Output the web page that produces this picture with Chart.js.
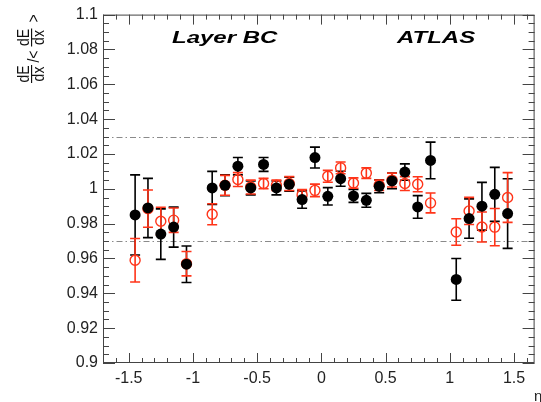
<!DOCTYPE html>
<html>
<head>
<meta charset="utf-8">
<script src="https://cdn.jsdelivr.net/npm/chart.js@4"></script>
<style>
  html, body { margin: 0; padding: 0; background: #fff; }
  canvas { display: block; }
</style>
</head>
<body>
<canvas id="grafica" width="541" height="402"></canvas>
<script>
// pseudorapidity bin centres
const eta = [-1.45, -1.35, -1.25, -1.15, -1.05,
  -0.85, -0.75, -0.65, -0.55, -0.45, -0.35, -0.25, -0.15, -0.05,
  0.05, 0.15, 0.25, 0.35, 0.45, 0.55, 0.65, 0.75, 0.85,
  1.05, 1.15, 1.25, 1.35, 1.45];

// filled black points
const filledVal = [0.985, 0.989, 0.974, 0.978, 0.9567,
  1.0005, 1.002, 1.013, 1.0005, 1.014, 1.0005, 1.0026, 0.9938, 1.0179,
  0.9957, 1.0058, 0.9959, 0.9934, 1.0014, 1.0045, 1.0096, 0.9896, 1.0163,
  0.948, 0.9829, 0.990, 0.9968, 0.9858];
const filledErr = [0.023, 0.017, 0.0145, 0.0115, 0.0105,
  0.0095, 0.006, 0.005, 0.004, 0.004, 0.004, 0.004, 0.005, 0.006,
  0.005, 0.0043, 0.0037, 0.004, 0.0037, 0.0045, 0.0047, 0.0065, 0.0105,
  0.012, 0.0113, 0.0137, 0.0155, 0.020];

// open red points
const openVal = [0.959, 0.9886, 0.9814, 0.982, 0.957,
  0.9854, 1.002, 1.0053, 1.001, 1.003, 1.002, 1.003, 0.9965, 0.9991,
  1.0072, 1.012, 1.0033, 1.009, 1.002, 1.005, 1.003, 1.0026, 0.9919,
  0.9752, 0.9873, 0.9781, 0.978, 0.995];
const openErr = [0.0125, 0.0107, 0.008, 0.007, 0.007,
  0.006, 0.0057, 0.004, 0.004, 0.003, 0.003, 0.004, 0.003, 0.0036,
  0.0034, 0.0034, 0.003, 0.003, 0.003, 0.004, 0.004, 0.0043, 0.0057,
  0.0076, 0.0078, 0.0086, 0.0107, 0.0143];

const xTickValues = [-1.5, -1, -0.5, 0, 0.5, 1, 1.5];
const xTickLabels = ['-1.5', '-1', '-0.5', '0', '0.5', '1', '1.5'];
const yTickValues = [0.9, 0.92, 0.94, 0.96, 0.98, 1, 1.02, 1.04, 1.06, 1.08, 1.1];
const yTickLabels = ['0.9', '0.92', '0.94', '0.96', '0.98', '1', '1.02', '1.04', '1.06', '1.08', '1.1'];
const refLines = [0.97, 1.03];

const ROJO = '#ff3419';
const FUENTE = '"Liberation Sans", Arial, Helvetica, sans-serif';

const puntos = (vals) => eta.map((x, i) => ({ x: x, y: vals[i] }));

// error bars, frame, inward ticks, reference lines
const marcoPlugin = {
  id: 'marco',
  beforeDatasetsDraw(chart) {
    const { ctx, chartArea: a, scales: { x, y } } = chart;
    ctx.save();
    // dash-dot reference lines
    ctx.strokeStyle = '#8a8a8a';
    ctx.lineWidth = 1;
    ctx.setLineDash([6, 3, 1.5, 3]);
    refLines.forEach(v => {
      const py = Math.round(y.getPixelForValue(v)) + 0.5;
      ctx.beginPath(); ctx.moveTo(a.left, py); ctx.lineTo(a.right, py); ctx.stroke();
    });
    ctx.setLineDash([]);

    const barras = (vals, errs, color) => {
      ctx.strokeStyle = color;
      ctx.lineWidth = 1.6;
      eta.forEach((e, i) => {
        const px = x.getPixelForValue(e);
        const top = y.getPixelForValue(vals[i] + errs[i]);
        const bot = y.getPixelForValue(vals[i] - errs[i]);
        ctx.beginPath();
        ctx.moveTo(px, top); ctx.lineTo(px, bot);
        ctx.moveTo(px - 5, top); ctx.lineTo(px + 5, top);
        ctx.moveTo(px - 5, bot); ctx.lineTo(px + 5, bot);
        ctx.stroke();
      });
    };
    barras(filledVal, filledErr, '#000');
    barras(openVal, openErr, ROJO);
    ctx.restore();
  },
  afterDraw(chart) {
    const { ctx, chartArea: a, scales: { x, y } } = chart;
    ctx.save();
    ctx.strokeStyle = '#444';
    ctx.lineWidth = 1;
    ctx.strokeRect(a.left + 0.5, a.top + 0.5, a.right - a.left - 1, a.bottom - a.top - 1);

    // x ticks, minor every 0.1
    for (let k = -17; k <= 16; k++) {
      const v = k / 10;
      const px = Math.round(x.getPixelForValue(v)) + 0.5;
      const len = (k % 5 === 0) ? 10 : 5;
      ctx.beginPath();
      ctx.moveTo(px, a.bottom); ctx.lineTo(px, a.bottom - len);
      ctx.moveTo(px, a.top); ctx.lineTo(px, a.top + len);
      ctx.stroke();
    }
    // y ticks, minor every 0.005
    for (let k = 0; k <= 40; k++) {
      const v = 0.9 + k * 0.005;
      const py = Math.round(y.getPixelForValue(v)) + 0.5;
      const len = (k % 4 === 0) ? 12 : 6;
      ctx.beginPath();
      ctx.moveTo(a.left, py); ctx.lineTo(a.left + len, py);
      ctx.moveTo(a.right, py); ctx.lineTo(a.right - len, py);
      ctx.stroke();
    }

    // labels inside the frame
    ctx.fillStyle = '#000';
    ctx.font = 'bold italic 16px ' + FUENTE;
    ctx.textBaseline = 'alphabetic';
    ctx.save(); ctx.translate(172, 43); ctx.scale(1.5, 1); ctx.fillText('Layer BC', 0, 0); ctx.restore();
    ctx.save(); ctx.translate(397, 43); ctx.scale(1.5, 1); ctx.fillText('ATLAS', 0, 0); ctx.restore();

    // x axis title
    ctx.fillStyle = '#222';
    ctx.font = '15px ' + FUENTE;
    ctx.textAlign = 'left';
    ctx.fillText('η', 534, 401);

    // y axis title: dE/dx / <dE/dx>
    ctx.save();
    ctx.translate(31, 83);
    ctx.rotate(-Math.PI / 2);
    ctx.scale(1, 1.15);
    ctx.font = '14px ' + FUENTE;
    ctx.fillStyle = '#111';
    ctx.textAlign = 'center';
    ctx.strokeStyle = '#111';
    ctx.lineWidth = 1;
    const fraccion = (cx) => {
      ctx.fillText('dE', cx, -2);
      ctx.fillText('dx', cx, 11);
      ctx.beginPath(); ctx.moveTo(cx - 9, 0.5); ctx.lineTo(cx + 9, 0.5); ctx.stroke();
    };
    fraccion(9);
    ctx.fillText('/<', 26.5, 7);
    fraccion(45.5);
    ctx.fillText('>', 64.5, 7);
    ctx.restore();

    ctx.restore();
  }
};

const ctx = document.getElementById('grafica').getContext('2d');
const grafica = new Chart(ctx, {
  type: 'scatter',
  data: {
    datasets: [
      {
        label: 'llenos',
        data: puntos(filledVal),
        pointStyle: 'circle',
        pointRadius: 5.5,
        pointHoverRadius: 5.5,
        pointBackgroundColor: '#000',
        pointBorderColor: '#000',
        pointBorderWidth: 0,
        order: 1
      },
      {
        label: 'abiertos',
        data: puntos(openVal),
        pointStyle: 'circle',
        pointRadius: 5,
        pointHoverRadius: 5,
        pointBackgroundColor: 'rgba(255,255,255,0)',
        pointBorderColor: ROJO,
        pointBorderWidth: 1.4,
        order: 2
      }
    ]
  },
  options: {
    responsive: false,
    animation: false,
    devicePixelRatio: 1,
    layout: { padding: { left: 0, right: 1, top: 14, bottom: 0 } },
    plugins: { legend: { display: false }, tooltip: { enabled: false } },
    scales: {
      x: {
        type: 'linear',
        min: -1.7,
        max: 1.66,
        grid: { display: false, drawTicks: false },
        border: { display: false },
        afterBuildTicks: (s) => { s.ticks = xTickValues.map(v => ({ value: v })); },
        afterFit: (s) => { s.height = 39; },
        ticks: {
          autoSkip: false,
          maxRotation: 0,
          padding: 6,
          color: '#222',
          font: { family: FUENTE, size: 16 },
          callback: (v, i) => xTickLabels[i]
        }
      },
      y: {
        type: 'linear',
        min: 0.9,
        max: 1.1,
        grid: { display: false, drawTicks: false },
        border: { display: false },
        afterBuildTicks: (s) => { s.ticks = yTickValues.map(v => ({ value: v })); },
        afterFit: (s) => { s.width = 103; },
        ticks: {
          autoSkip: false,
          padding: 5,
          color: '#222',
          font: { family: FUENTE, size: 16 },
          callback: (v, i) => yTickLabels[i]
        }
      }
    }
  },
  plugins: [marcoPlugin]
});
</script>
</body>
</html>
